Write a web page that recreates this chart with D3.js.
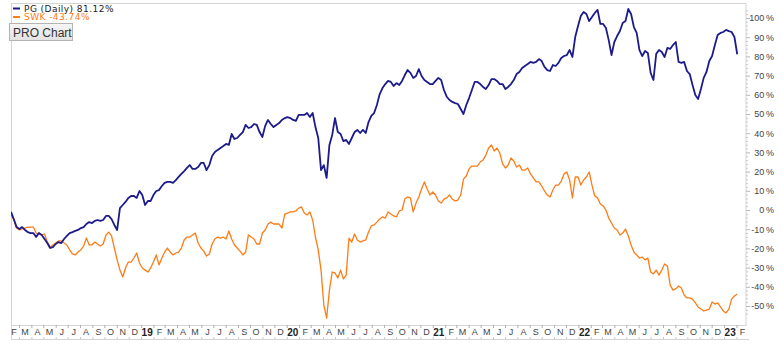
<!DOCTYPE html>
<html>
<head>
<meta charset="utf-8">
<script src="https://cdn.jsdelivr.net/npm/d3@7"></script>
<style>
  html, body { margin: 0; padding: 0; background: #fff; }
  svg { display: block; }
</style>
</head>
<body>
<svg id="chart" width="782" height="350"></svg>
<script>
// Weekly closes, percent change since the first week
const startDate = "2018-02-09";
const endDate = "2023-02-25";

const pgLabel = "PG (Daily) 81.12%";
const swkLabel = "SWK -43.74%";

const pgValues = [
  -1, -4.7, -8.9, -9.9, -8.9, -10.4, -11.5, -12, -12, -14,
  -12, -13, -15.1, -17.2, -19.8, -19.3, -17.7, -16.7, -17.2, -15.1,
  -13.5, -12, -11.5, -10.9, -10.4, -9.4, -8.9, -7.3, -6.3, -6.8,
  -5.7, -5.2, -5.7, -5.2, -3.1, -3.1, -4.7, -7.8, -10.4, 1,
  2.6, 4.2, 6.3, 7.3, 7.3, 6.3, 9.9, 7.8, 2.6, 4.7,
  4.7, 7.8, 9.9, 10.4, 12.5, 14.1, 14.6, 14.6, 14.1, 15.6,
  17.2, 18.8, 20.3, 21.9, 23.4, 21.4, 21.4, 22.4, 24.5, 24.5,
  20.8, 23.4, 28.1, 30.2, 31.3, 32.3, 33.3, 34.4, 33.9, 39.6,
  37, 37.5, 39.1, 40.6, 44.3, 42.7, 43.2, 44.8, 44.3, 40.6,
  38, 43.8, 46.9, 44.8, 43.2, 44.3, 45.3, 46.9, 47.9, 48.4,
  47.9, 46.9, 46.4, 49.5, 49.5, 49.5, 50.5, 48.4, 50.5, 43.2,
  37.5, 20.8, 23.4, 16.7, 33.9, 39.1, 47.9, 40.6, 39.6, 35.9,
  36.5, 34.4, 37.5, 40.6, 41.7, 40.1, 41.7, 40.1, 45.8, 49,
  50.5, 54.7, 60.4, 63.5, 65.6, 67.2, 66.7, 64.6, 66.1, 65.1,
  67.2, 70.3, 72.9, 71.4, 68.8, 69.8, 73.4, 69.8, 67.7, 66.7,
  65.6, 65.6, 67.2, 68.8, 67.7, 62.5, 59, 57.3, 56.3, 55.7,
  55.2, 52.6, 50, 54.7, 58.3, 62.5, 66.7, 66.7, 65.6, 64.1,
  63, 65.1, 68.2, 68.2, 67.2, 65.6, 65.6, 63, 64.1, 65.6,
  67.7, 70.8, 71.9, 74, 75, 76, 77.1, 76.6, 77.1, 78.6,
  77.6, 74.5, 72.9, 72.4, 75.5, 75, 76.6, 79.2, 80.2, 80.7,
  83.3, 79.7, 90.1, 95.8, 101, 103.1, 102.1, 98.4, 100.5, 102.6,
  104.2, 96.9, 96.9, 94.8, 88.5, 80.7, 87.5, 90.6, 93.2, 97.4,
  98.4, 104.7, 102.1, 95.3, 92.2, 83.3, 80.2, 82.8, 81.8, 71.4,
  67.7, 81.3, 83.3, 82.3, 79.7, 84.4, 83.9, 85.9, 87.5, 77.1,
  76.6, 77.1, 72.4, 70.8, 65.1, 59.9, 57.8, 63, 68.8, 71.9,
  77.6, 80.2, 85.9, 91.1, 92.2, 92.7, 93.8, 93.2, 92.7, 90.1,
  81.12
];

const swkValues = [
  -2.6, -5.2, -9.4, -10.4, -9.9, -9.4, -8.9, -8.9, -8.9, -12,
  -12.5, -13, -12.5, -16.7, -19.3, -18.2, -17.2, -16.1, -16.1, -17.2,
  -18.2, -20.8, -22.9, -23.4, -21.9, -20.8, -18.8, -14.6, -18.2, -18.2,
  -16.7, -17.7, -18.8, -17.7, -13, -11.5, -13.5, -19.8, -26, -31.3,
  -34.9, -30.2, -27.1, -27.1, -25, -22.4, -27.6, -30.2, -31.3, -32.3,
  -30.2, -27.1, -23.4, -28.6, -25, -21.9, -19.8, -21.9, -23.4, -22.4,
  -21.9, -19.8, -15.6, -14.1, -14.1, -13, -12, -17.2, -19.8, -21.4,
  -24, -22.9, -17.7, -15.1, -14.1, -14.6, -14.1, -15.1, -10.9, -15.1,
  -18.2, -19.8, -21.4, -23.4, -21.9, -13, -14.1, -15.1, -17.7, -17.7,
  -12, -10.4, -7.3, -6.3, -7.3, -7.3, -7.3, -9.4, -2.1, -1.6,
  -1, -1, -0.5, 1, 1.6, -1.6, -2.6, -1, -5.2, -14.1,
  -20.8, -31.3, -49.5, -56.3, -41.7, -32.3, -32.8, -35.4, -31.3, -35.9,
  -33.9, -14.6, -16.7, -12.5, -15.6, -16.7, -16.1, -15.6, -11.5, -8.3,
  -7.8, -6.3, -4.7, -3.6, -4.2, -1, -2.1, -3.1, -3.6, -0.5,
  0, 5.7, 6.8, 6.3, -1, 3.6, 6.8, 10.9, 14.6, 10.9,
  7.8, 9.4, 7.8, 4.7, 3.6, 5.7, 6.3, 7.8, 5.7, 4.7,
  5.2, 7.8, 16.1, 17.7, 21.4, 22.9, 22.9, 22.9, 25, 26,
  28.6, 32.3, 33.9, 30.7, 32.3, 29.7, 24, 21.9, 23.4, 27.1,
  25.5, 22.4, 23.4, 20.8, 20.8, 21.9, 18.8, 16.7, 14.6, 14.6,
  12.5, 9.9, 7.8, 6.8, 10.4, 13, 13, 15.1, 18.8, 19.8,
  15.6, 6.3, 17.2, 17.2, 13, 15.6, 17.2, 19.8, 13, 7.3,
  6.3, 3.1, 2.1, 0, -4.2, -6.8, -9.4, -10.4, -13, -12,
  -9.9, -13.5, -18.2, -21.9, -23.4, -25, -24.5, -26, -25, -32.3,
  -33.3, -31.3, -33.9, -31.3, -28.1, -29.2, -39.1, -41.7, -41.1, -39.6,
  -40.6, -44.3, -45.8, -45.8, -46.4, -48.4, -50.5, -51.6, -52.6, -52.1,
  -51.6, -47.9, -49, -48.4, -50.5, -52.6, -53.6, -51.6, -46.4, -44.8,
  -43.74
];

const yTickValues = [100, 90, 80, 70, 60, 50, 40, 30, 20, 10, 0, -10, -20, -30, -40, -50];
const monthLetters = ["J", "F", "M", "A", "M", "J", "J", "A", "S", "O", "N", "D"];

const pgColor = "#1b1b8c";
const swkColor = "#ff7b14";

const parse = d3.timeParse("%Y-%m-%d");
const t0 = parse(startDate);
const t1 = parse(endDate);

const box = { left: 11, right: 746, top: 3, bottom: 325, band: 339 };

const x = d3.scaleTime().domain([t0, t1]).range([box.left, box.right]);
const y = d3.scaleLinear().domain([0, 100]).range([210, 18]);

const toSeries = vals => vals.map((v, i) => ({ date: d3.timeDay.offset(t0, 7 * i), v }));
const pg = toSeries(pgValues);
const swk = toSeries(swkValues);

const svg = d3.select("#chart");

svg.append("defs").append("clipPath").attr("id", "plotClip")
  .append("rect")
  .attr("x", box.left).attr("y", box.top)
  .attr("width", box.right - box.left).attr("height", box.bottom - box.top);

// Frame around the plot and the date band
svg.append("rect")
  .attr("x", box.left + 0.5).attr("y", box.top + 0.5)
  .attr("width", box.right - box.left - 0.5).attr("height", box.bottom - box.top)
  .attr("fill", "none").attr("stroke", "#d4d4d4");
svg.append("line")
  .attr("x1", box.left + 0.5).attr("x2", box.left + 0.5)
  .attr("y1", box.bottom).attr("y2", box.band + 0.5)
  .attr("stroke", "#d4d4d4");
svg.append("line")
  .attr("x1", box.left).attr("x2", box.right + 3)
  .attr("y1", box.band + 0.5).attr("y2", box.band + 0.5)
  .attr("stroke", "#d4d4d4");

// Right-hand percentage axis
const minorTicks = d3.range(-54, 106, 2).filter(v => v % 10 !== 0);
svg.append("g")
  .attr("transform", `translate(${box.right},0)`)
  .call(d3.axisRight(y).tickValues(minorTicks).tickSize(2).tickFormat(""))
  .call(g => g.select(".domain").remove())
  .call(g => g.selectAll("line").attr("stroke", "#c8c8c8"));

svg.append("g")
  .attr("transform", `translate(${box.right},0)`)
  .call(d3.axisRight(y).tickValues(yTickValues).tickSize(4).tickFormat(d => d + "\u2009%"))
  .call(g => g.select(".domain").remove())
  .call(g => g.selectAll("line").attr("stroke", "#b8b8b8"))
  .call(g => g.selectAll("text")
    .attr("x", 28)
    .attr("text-anchor", "end")
    .attr("fill", "#444")
    .style("font-family", "'Liberation Sans', Arial, sans-serif")
    .style("font-size", "9px"));

// Date band: month boundary ticks and mid-month letters
const monthStarts = d3.timeMonth.range(t0, t1);
svg.append("g")
  .attr("transform", `translate(0,${box.bottom})`)
  .call(d3.axisBottom(x).tickValues(monthStarts).tickSize(3).tickFormat(""))
  .call(g => g.select(".domain").remove())
  .call(g => g.selectAll("line").attr("stroke", "#b0b0b0"));
svg.append("g")
  .attr("transform", `translate(0,${box.band})`)
  .call(d3.axisTop(x).tickValues(monthStarts).tickSize(2).tickFormat(""))
  .call(g => g.select(".domain").remove())
  .call(g => g.selectAll("line").attr("stroke", "#c8c8c8"));

const labelDates = d3.timeMonth.range(d3.timeMonth.floor(t0), t1).map(m => d3.timeDay.offset(m, 14));
const fmtLabel = d => d.getMonth() === 0
  ? String(d.getFullYear()).slice(2)
  : monthLetters[d.getMonth()];
svg.append("g")
  .attr("transform", `translate(0,${box.bottom})`)
  .call(d3.axisBottom(x).tickValues(labelDates).tickSize(0).tickFormat(fmtLabel))
  .call(g => g.select(".domain").remove())
  .call(g => g.selectAll("text")
    .attr("y", 4)
    .attr("fill", d => d.getMonth() === 0 ? "#222" : "#444")
    .style("font-weight", d => d.getMonth() === 0 ? "bold" : "normal")
    .style("font-family", "'Liberation Sans', Arial, sans-serif")
    .style("font-size", d => d.getMonth() === 0 ? "10px" : "9px"));

// Price lines
const line = d3.line().x(d => x(d.date)).y(d => y(d.v));
const lines = svg.append("g").attr("clip-path", "url(#plotClip)");
lines.append("path").datum(swk)
  .attr("d", line).attr("fill", "none")
  .attr("stroke", swkColor).attr("stroke-width", 1.3)
  .attr("stroke-linejoin", "round");
lines.append("path").datum(pg)
  .attr("d", line).attr("fill", "none")
  .attr("stroke", pgColor).attr("stroke-width", 1.8)
  .attr("stroke-linejoin", "round");

// Legend
const legend = svg.append("g")
  .style("font-family", "'DejaVu Sans', Verdana, sans-serif")
  .style("font-size", "9px")
  .style("letter-spacing", "0.45px");
legend.append("rect").attr("x", 13).attr("y", 7.5).attr("width", 7).attr("height", 2).attr("fill", pgColor);
legend.append("text").attr("x", 24).attr("y", 11.5).attr("fill", "#222").text(pgLabel);
legend.append("rect").attr("x", 13).attr("y", 16).attr("width", 7).attr("height", 2).attr("fill", swkColor);
legend.append("text").attr("x", 24).attr("y", 20).attr("fill", swkColor).text(swkLabel);

// "PRO Chart" button
const grad = svg.select("defs").append("linearGradient")
  .attr("id", "btnGrad").attr("x1", 0).attr("y1", 0).attr("x2", 0).attr("y2", 1);
grad.append("stop").attr("offset", "0%").attr("stop-color", "#f6f6f6");
grad.append("stop").attr("offset", "100%").attr("stop-color", "#e2e2e2");
svg.append("rect")
  .attr("x", 9.5).attr("y", 23.5).attr("width", 63).attr("height", 17)
  .attr("fill", "url(#btnGrad)").attr("stroke", "#b4b4b4");
svg.append("text")
  .attr("x", 13).attr("y", 36.5)
  .attr("fill", "#333")
  .style("font-family", "'Liberation Sans', Arial, sans-serif")
  .style("font-size", "12px")
  .text("PRO Chart");
</script>
</body>
</html>
